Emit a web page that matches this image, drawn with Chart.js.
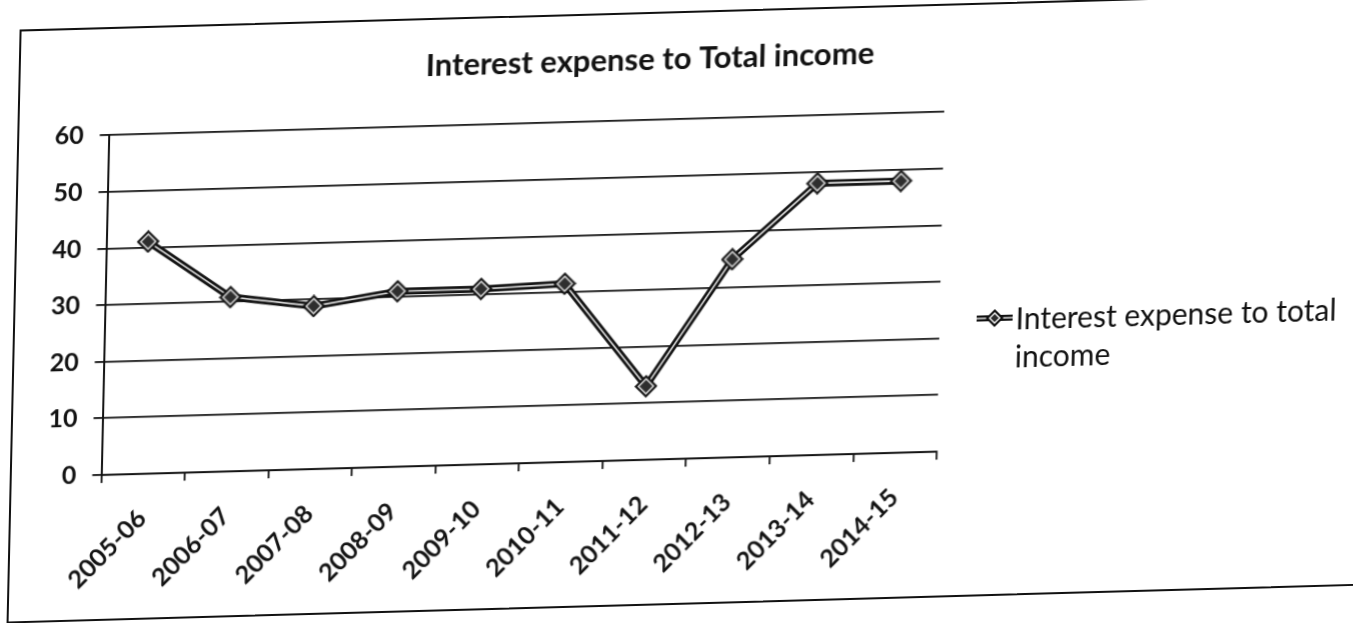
<!DOCTYPE html>
<html>
<head>
<meta charset="utf-8">
<title>Interest expense to Total income</title>
<script src="https://cdn.jsdelivr.net/npm/chart.js@4.4.1/dist/chart.umd.min.js"></script>
<style>
  html, body { margin: 0; padding: 0; background: #fff; width: 1353px; height: 623px; overflow: hidden; }
  /* the printed sheet sits slightly askew on the page */
  #sheet { position: absolute; left: 0; top: 0; width: 1353px; height: 623px;
           transform-origin: 676.5px 311.5px; transform: skew(-1.26deg, -1.6deg); }
  #frame { position: absolute; left: 13px; top: 11px; width: 1420px; height: 594px;
           border: 2.5px solid #111; box-sizing: border-box; }
  #wrap { position: absolute; left: 0; top: 0; width: 1289px; height: 623px; }
  #chart { display: block; width: 1289px; height: 623px; }
  #legend { position: absolute; left: 976px; top: 308px; display: flex; align-items: flex-start;
            font-family: Lato, "Open Sans", sans-serif; font-size: 30px; line-height: 38px; color: #111; }
  #legend svg { flex: none; margin-top: 9px; margin-right: 2px; }
  #legend .txt { width: 390px; }
</style>
</head>
<body>
<div id="sheet">
  <div id="frame"></div>
  <div id="wrap"><canvas id="chart" width="1289" height="623"></canvas></div>
  <div id="legend"></div>
</div>
<script>
// Financial years on the category axis
const categories = ['2005-06', '2006-07', '2007-08', '2008-09', '2009-10',
                    '2010-11', '2011-12', '2012-13', '2013-14', '2014-15'];
// Interest expense as a percentage of total income
const ratioValues = [41, 30.8, 28.8, 31, 31, 31.5, 13, 35, 48, 48];
// Value-axis ticks
const yTicks = [0, 10, 20, 30, 40, 50, 60];
const seriesName = 'Interest expense to total income';
const chartTitle = 'Interest expense to Total income';

const INK = '#111';

// Diamond marker: black rim, white ring, dark core
function diamondSprite(size) {
  const c = document.createElement('canvas');
  c.width = size; c.height = size;
  const g = c.getContext('2d');
  const h = size / 2;
  const dia = (r, col) => {
    g.beginPath();
    g.moveTo(h, h - r); g.lineTo(h + r, h); g.lineTo(h, h + r); g.lineTo(h - r, h);
    g.closePath(); g.fillStyle = col; g.fill();
  };
  dia(h, INK);
  dia(h - 3, '#eee');
  dia(h - 5, '#2e2e2e');
  return c;
}

function legendGlyph() {
  const ns = 'http://www.w3.org/2000/svg';
  const svg = document.createElementNS(ns, 'svg');
  svg.setAttribute('width', '38'); svg.setAttribute('height', '20');
  svg.innerHTML =
    '<line x1="1" y1="10" x2="37" y2="10" stroke="#111" stroke-width="6"/>' +
    '<line x1="1" y1="10" x2="37" y2="10" stroke="#ddd" stroke-width="1.5"/>' +
    '<polygon points="19,1 28,10 19,19 10,10" fill="#111"/>' +
    '<polygon points="19,4 25,10 19,16 13,10" fill="#eee"/>' +
    '<polygon points="19,6 23,10 19,14 15,10" fill="#2e2e2e"/>';
  return svg;
}

function build() {
  const marker = diamondSprite(23);

  const legend = document.getElementById('legend');
  legend.appendChild(legendGlyph());
  const t = document.createElement('div');
  t.className = 'txt';
  t.textContent = seriesName;
  legend.appendChild(t);

  new Chart(document.getElementById('chart'), {
    type: 'line',
    data: {
      labels: categories,
      datasets: [
        { label: seriesName, data: ratioValues, borderColor: INK, borderWidth: 7,
          pointRadius: 0, tension: 0, order: 3 },
        { label: seriesName + ' core', data: ratioValues, borderColor: '#e6e6e6', borderWidth: 1.6,
          pointRadius: 0, tension: 0, order: 2 },
        { label: seriesName + ' markers', data: ratioValues, showLine: false,
          pointStyle: marker, pointRadius: 11, order: 1 }
      ]
    },
    options: {
      responsive: false,
      maintainAspectRatio: false,
      animation: false,
      devicePixelRatio: 1,
      layout: { padding: 0 },
      plugins: {
        legend: { display: false },
        tooltip: { enabled: false },
        title: {
          display: true, text: chartTitle, color: INK,
          font: { family: 'Lato', size: 31, weight: 'bold' },
          padding: { top: 40, bottom: 42 }
        }
      },
      scales: {
        x: {
          type: 'category',
          offset: true,
          border: { display: true, color: INK, width: 2 },
          grid: { display: true, drawOnChartArea: false, drawTicks: true, offset: true,
                  tickLength: 8, color: INK, lineWidth: 1.8 },
          ticks: { color: INK, font: { family: 'Lato', size: 25, weight: 'bold' },
                   minRotation: 45, maxRotation: 45, padding: 22, autoSkip: false },
          afterFit: s => { s.height = 164; }
        },
        y: {
          min: 0, max: 60,
          border: { display: true, color: INK, width: 2 },
          grid: { color: INK, lineWidth: 1.8, tickLength: 9, drawTicks: true },
          ticks: { color: INK, font: { family: 'Lato', size: 25, weight: 'bold' }, padding: 16 },
          afterBuildTicks: s => { s.ticks = yTicks.map(v => ({ value: v })); },
          afterFit: s => { s.width = 104.5; }
        },
        // blank strip on the right that keeps room for the legend
        side: {
          position: 'right', display: true,
          grid: { display: false, drawTicks: false },
          border: { display: false },
          ticks: { display: false },
          afterFit: s => { s.width = 349; }
        }
      }
    }
  });
}

Promise.all([
  document.fonts.load('bold 31px Lato'),
  document.fonts.load('30px Lato'),
  document.fonts.load('bold 25px Lato')
]).catch(() => {}).then(build);
</script>
</body>
</html>
